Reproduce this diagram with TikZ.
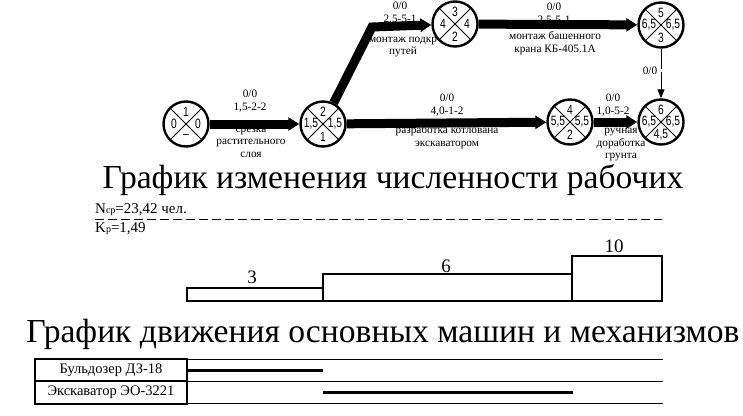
\documentclass[tikz,border=0pt]{standalone}
\usepackage{fontspec}
\setmainfont{Liberation Serif}
\newfontfamily\numfont[FakeStretch=0.76]{Liberation Sans}
\usetikzlibrary{arrows.meta}

\tikzset{
  event/.style={circle,draw,line width=2.4pt,minimum size=45pt,inner sep=0pt},
  num/.style={font=\numfont\fontsize{13.5}{13.5}\selectfont,inner sep=0pt},
  work/.style={line width=9pt,-{Triangle[length=11pt,width=13pt]}},
  dummy/.style={line width=0.9pt,dash pattern=on 20pt off 3pt,-{Triangle[length=9pt,width=7pt]}},
  lbl/.style={font=\rmfamily\fontsize{11.3}{12.5}\selectfont,align=center,inner sep=0pt},
  title/.style={anchor=base,inner sep=0pt,font=\rmfamily\fontsize{33.6}{34}\selectfont},
  bar/.style={line width=2.4pt},
}

\begin{document}
\begin{tikzpicture}[x=1pt,y=-1pt]
\useasboundingbox[fill=white] (0,0) rectangle (743,415);

% network graph
\foreach \n/\x/\y/\t/\l/\r/\b in {1/186/124/1/0/0/–, 2/323/124/2/{1,5}/{1,5}/1,
    3/455/24/3/4/4/2, 4/570/122/4/{5,5}/{5,5}/2,
    5/661/25/5/{6,5}/{6,5}/3, 6/661/122/6/{6,5}/{6,5}/{4,5}} {
  \node[event] (e\n) at (\x,\y) {};
  \draw[line width=0.8pt] (e\n.45) -- (e\n.225);
  \draw[line width=0.8pt] (e\n.135) -- (e\n.315);
  \node[num] at (\x,\y-12.5) {\t};
  \node[num] at (\x-12,\y) {\l};
  \node[num] at (\x+12,\y) {\r};
  \node[num] at (\x,\y+12.5) {\b};
}
\coordinate (kink) at (372,27);
\draw[work] (e1) -- (e2);
\draw[work,line join=miter] (e2) -- (kink) -- (e3);
\draw[work] (e3) -- (e5);
\draw[work] (e2) -- (e4);
\draw[work] (e4) -- (e6);
\draw[dummy] (e5) -- (e6);

\node[lbl] (w12a) at (250,101) {0/0\\1,5-2-2};
\node[lbl] (w12b) at (251,142) {срезка\\растительного\\слоя};
\node[lbl] (w23a) at (400,13) {0/0\\2,5-5-1};
\node[lbl] (w23b) at (403,47) {монтаж подкр\\путей};
\node[lbl] (w35a) at (554,14) {0/0\\2,5-5-1};
\node[lbl] (w35b) at (555,43) {монтаж башенного\\крана КБ-405.1А};
\node[lbl] (w24a) at (447,105) {0/0\\4,0-1-2};
\node[lbl] (w24b) at (447,137) {разработка котлована\\экскаватором};
\node[lbl] (w46a) at (613,105) {0/0\\1,0-5-2};
\node[lbl] (w46b) at (621,145) {ручная\\доработка\\грунта};
\node[lbl] (w56) at (650,71) {0/0};

% workers chart
\node[title] (t1) at (393,188) {График изменения численности рабочих};
\node[anchor=base west,inner sep=0pt,font=\fontsize{15}{15}\selectfont] (nsr) at (95,213)
  {N{\fontsize{10}{10}\selectfont ср}=23,42 чел.};
\node[anchor=base west,inner sep=0pt,font=\fontsize{15}{15}\selectfont] (kr) at (95,232)
  {K{\fontsize{10}{10}\selectfont р}=1,49};
\draw[line width=0.9pt,dash pattern=on 9pt off 4pt] (95,219) -- (662,219);

\draw[bar] (187,301) rectangle (323,288);
\draw[bar] (323,301) rectangle (572,274);
\draw[bar] (572,301) rectangle (662,256);
\node[font=\fontsize{19}{19}\selectfont] (n3) at (252,277) {3};
\node[font=\fontsize{19}{19}\selectfont] (n6) at (446,266) {6};
\node[font=\fontsize{19}{19}\selectfont] (n10) at (614,246) {10};

% machines chart
\node[title] (t2) at (383,342) {График движения основных машин и механизмов};
\draw[line width=1pt] (187,359) -- (663,359);
\draw[line width=1pt] (187,381) -- (663,381);
\draw[line width=1pt] (187,403) -- (663,403);
\draw[bar] (35,359) rectangle (187,404);
\draw[bar] (35,381) -- (187,381);
\node[font=\fontsize{14.5}{15}\selectfont] (m1) at (111,370) {Бульдозер ДЗ-18};
\node[font=\fontsize{14.5}{15}\selectfont] (m2) at (111,392) {Экскаватор ЭО-3221};
\draw[line width=3pt] (187,370) -- (323,370);
\draw[line width=3pt] (323,392) -- (573,392);
\end{tikzpicture}
\end{document}
